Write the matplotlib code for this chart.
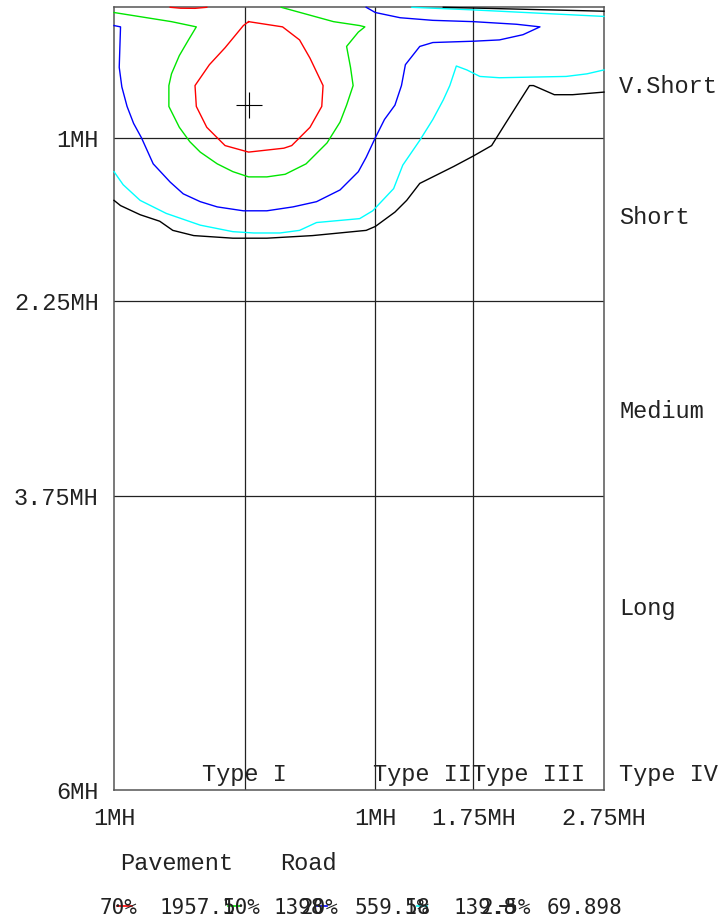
import matplotlib
matplotlib.use("Agg")
import matplotlib.pyplot as plt

# iso-candela traces, distances in mounting heights (x across road, y along road)
red_loop = [(0.03, 0.11), (0.29, 0.15), (0.42, 0.25), (0.50, 0.39), (0.60, 0.60),
            (0.59, 0.76), (0.50, 0.92), (0.36, 1.06), (0.30, 1.08), (0.03, 1.11),
            (-0.15, 1.06), (-0.29, 0.92), (-0.37, 0.76), (-0.38, 0.60), (-0.27, 0.44),
            (-0.15, 0.31), (-0.01, 0.14), (0.03, 0.11)]
red_top = [(-0.57, 0.0), (-0.49, 0.007), (-0.38, 0.008), (-0.29, 0.0)]
green_curve = [(-1.0, 0.04), (-0.56, 0.11), (-0.37, 0.15), (-0.43, 0.25), (-0.50, 0.37),
               (-0.56, 0.51), (-0.58, 0.60), (-0.58, 0.76), (-0.50, 0.92), (-0.42, 1.03),
               (-0.34, 1.11), (-0.21, 1.20), (-0.09, 1.26), (0.03, 1.30), (0.17, 1.30),
               (0.31, 1.28), (0.47, 1.20), (0.63, 1.04), (0.73, 0.88), (0.78, 0.75),
               (0.83, 0.60), (0.81, 0.46), (0.78, 0.30), (0.87, 0.19), (0.92, 0.15),
               (0.88, 0.14), (0.68, 0.11), (0.28, 0.0)]
blue_curve = [(-1.0, 0.14), (-0.95, 0.15), (-0.96, 0.46), (-0.94, 0.61), (-0.90, 0.76),
              (-0.85, 0.89), (-0.79, 1.00), (-0.70, 1.20), (-0.57, 1.34), (-0.47, 1.43),
              (-0.34, 1.49), (-0.21, 1.53), (-0.01, 1.56), (0.17, 1.56), (0.37, 1.53),
              (0.55, 1.49), (0.73, 1.40), (0.87, 1.26), (0.93, 1.15), (1.00, 1.00),
              (1.07, 0.86), (1.15, 0.75), (1.20, 0.60), (1.23, 0.44), (1.34, 0.30),
              (1.44, 0.27), (1.75, 0.26), (1.95, 0.25), (2.13, 0.21), (2.26, 0.15),
              (2.08, 0.13), (1.75, 0.11), (1.44, 0.10), (1.19, 0.08), (1.00, 0.04),
              (0.93, 0.0)]
cyan_curve = [(-1.0, 1.26), (-0.93, 1.36), (-0.80, 1.48), (-0.60, 1.58), (-0.34, 1.67),
              (-0.09, 1.72), (0.07, 1.73), (0.27, 1.73), (0.42, 1.71), (0.55, 1.65),
              (0.88, 1.62), (0.98, 1.56), (1.14, 1.39), (1.21, 1.21), (1.34, 1.02),
              (1.44, 0.86), (1.52, 0.71), (1.57, 0.60), (1.62, 0.45), (1.70, 0.48),
              (1.80, 0.53), (1.95, 0.54), (2.46, 0.53), (2.62, 0.51), (2.75, 0.48)]
cyan_top = [(1.28, 0.0), (1.75, 0.02), (2.75, 0.07)]
black_curve = [(-1.0, 1.48), (-0.95, 1.52), (-0.80, 1.59), (-0.65, 1.64), (-0.55, 1.71),
               (-0.39, 1.75), (-0.09, 1.77), (0.17, 1.77), (0.52, 1.75), (0.93, 1.71),
               (1.00, 1.68), (1.15, 1.57), (1.24, 1.48), (1.34, 1.35), (1.44, 1.30),
               (1.60, 1.22), (1.75, 1.14), (1.89, 1.06), (1.99, 0.90), (2.11, 0.71),
               (2.18, 0.60), (2.21, 0.60), (2.37, 0.67), (2.51, 0.67), (2.75, 0.65)]
black_top = [(1.52, 0.0), (2.75, 0.03)]
max_point = (0.03, 0.75)

x_ticks = [-1, 1, 1.75, 2.75]
x_tick_labels = ["1MH", "1MH", "1.75MH", "2.75MH"]
y_ticks = [1, 2.25, 3.75, 6]
y_tick_labels = ["1MH", "2.25MH", "3.75MH", "6MH"]
v_grid = [0, 1, 1.75]
h_grid = [1, 2.25, 3.75]

range_names = ["V.Short", "Short", "Medium", "Long"]
range_y = [0.61, 1.61, 3.1, 4.61]
type_names = ["Type I", "Type II", "Type III", "Type IV"]

pct_labels = ["70%", "50%", "20%", "5%", "2.5%"]
cd_values = ["1957.1", "1398", "559.18", "139.8", "69.898"]
line_colors = ["#ff0000", "#00e600", "#0000ff", "#00ffff", "#000000"]

W, H = 726, 919
mono = "Liberation Mono"
txt_color = "#222222"

fig = plt.figure(figsize=(W / 100, H / 100), dpi=100)
ax = fig.add_axes([114 / W, (H - 790) / H, 490 / W, (790 - 7.3) / H])
ax.set_xlim(-1, 2.75)
ax.set_ylim(6, 0)

for gx in v_grid:
    ax.axvline(gx, color="#222222", lw=0.9, zorder=1)
for gy in h_grid:
    ax.axhline(gy, color="#222222", lw=0.9, zorder=1)

traces = [(red_loop, line_colors[0]), (red_top, line_colors[0]),
          (green_curve, line_colors[1]), (blue_curve, line_colors[2]),
          (cyan_curve, line_colors[3]), (cyan_top, line_colors[3]),
          (black_curve, line_colors[4]), (black_top, line_colors[4])]
for pts, c in traces:
    xs = [p[0] for p in pts]
    ys = [p[1] for p in pts]
    ax.plot(xs, ys, color=c, lw=1.0, zorder=3, clip_on=False)

# max candela point
ax.plot(max_point[0], max_point[1], marker="+", ms=19, mew=0.8, color="black", zorder=4)

ax.set_xticks(x_ticks)
ax.set_xticklabels(x_tick_labels, fontfamily=mono, fontsize=17)
ax.set_yticks(y_ticks)
ax.set_yticklabels(y_tick_labels, fontfamily=mono, fontsize=17)
ax.tick_params(axis="both", length=0, colors=txt_color)
ax.tick_params(axis="y", pad=11)
ax.tick_params(axis="x", pad=12)
for s in ax.spines.values():
    s.set_color("#555555")
    s.set_linewidth(1.1)

for name, yy in zip(range_names, range_y):
    ax.text(2.865, yy, name, fontfamily=mono, fontsize=17, va="center", ha="left",
            color=txt_color, clip_on=False)

type_x = [0.0, 0.985, 1.74, 2.865]
type_ha = ["center", "left", "left", "left"]
for name, tx, ha in zip(type_names, type_x, type_ha):
    ax.text(tx, 5.93, name, fontfamily=mono, fontsize=17, va="baseline", ha=ha,
            color=txt_color, clip_on=False)


def px_text(x, y, s, **kw):
    fig.text(x / W, 1 - y / H, s, **kw)


px_text(120, 863, "Pavement", fontfamily=mono, fontsize=17, va="center", color=txt_color)
px_text(280, 863, "Road", fontfamily=mono, fontsize=17, va="center", color=txt_color)

# legend row (overlapping as in the original export)
label_x = [100, 223, 300, 405, 480]
value_x = [160, 273, 355, 453, 547]
line_x = [(117, 132), (228, 240), (315, 327), (417, 427), (500, 515)]
for lab, val, c, lx, vx, (x0, x1) in zip(pct_labels, cd_values, line_colors,
                                          label_x, value_x, line_x):
    px_text(lx, 908, lab, fontfamily="DejaVu Sans Mono", fontsize=15, va="center",
            color=txt_color)
    px_text(vx, 908, val, fontfamily="DejaVu Sans Mono", fontsize=15, va="center",
            color=txt_color)
    fig.add_artist(plt.Line2D([x0 / W, x1 / W], [1 - 905.5 / H, 1 - 905.5 / H],
                              color=c, lw=1.2, transform=fig.transFigure))

fig.savefig("out.png", dpi=100)
